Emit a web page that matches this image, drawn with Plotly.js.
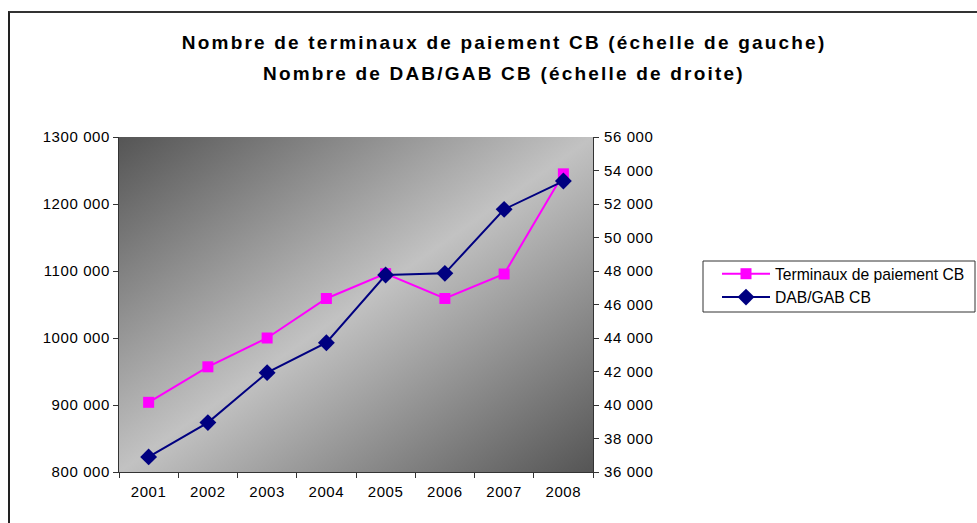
<!DOCTYPE html>
<html>
<head>
<meta charset="utf-8">
<script src="https://cdn.plot.ly/plotly-3.0.1.min.js"></script>
<style>
  body { margin: 0; background: #fff; }
  #wrap { position: relative; width: 977px; height: 523px; }
  #chart { width: 977px; height: 523px; }
  #frame { position: absolute; left: 8px; top: 11px; right: -5px; bottom: -5px;
           border-left: 2px solid #222; border-top: 2px solid #333; pointer-events: none; }
  /* Excel espace les lettres plus largement */
  #chart .gtitle, #chart .annotation-text { letter-spacing: 2.2px; }
  #chart .xtick text, #chart .ytick text, #chart .y2tick text { letter-spacing: 0.6px; }
</style>
</head>
<body>
<div id="wrap">
  <div id="chart"></div>
  <div id="frame"></div>
</div>
<script>
// Données
const annees = ['2001', '2002', '2003', '2004', '2005', '2006', '2007', '2008'];
const terminaux = [904000, 957000, 1000000, 1059000, 1096000, 1059000, 1095500, 1245000];
const dabGab = [36900, 38950, 41930, 43720, 47760, 47860, 51680, 53370];

const gaucheVals = [800000, 900000, 1000000, 1100000, 1200000, 1300000];
const gaucheText = ['800 000', '900 000', '1000 000', '1100 000', '1200 000', '1300 000'];
const droiteVals = [36000, 38000, 40000, 42000, 44000, 46000, 48000, 50000, 52000, 54000, 56000];
const droiteText = ['36 000', '38 000', '40 000', '42 000', '44 000', '46 000', '48 000', '50 000', '52 000', '54 000', '56 000'];

// fond dégradé de la zone de tracé
const fondSvg = '<svg xmlns="http://www.w3.org/2000/svg" width="474" height="335" preserveAspectRatio="none">' +
    '<defs><linearGradient id="g" x1="0" y1="0" x2="1" y2="1">' +
    '<stop offset="0" stop-color="#555555"/>' +
    '<stop offset="0.5" stop-color="#c2c2c2"/>' +
    '<stop offset="1" stop-color="#555555"/>' +
    '</linearGradient></defs><rect width="474" height="335" fill="url(#g)"/></svg>';
const fondUri = 'data:image/svg+xml;base64,' + btoa(fondSvg);

const traces = [
    {
        x: annees, y: terminaux,
        name: 'Terminaux de paiement CB',
        type: 'scatter', mode: 'lines+markers',
        line: { color: '#ff00ff', width: 2 },
        marker: { symbol: 'square', size: 11, color: '#ff00ff' }
    },
    {
        x: annees, y: dabGab,
        name: 'DAB/GAB CB',
        yaxis: 'y2',
        type: 'scatter', mode: 'lines+markers',
        line: { color: '#000080', width: 2 },
        marker: { symbol: 'diamond', size: 13, color: '#000080' }
    }
];

const police = 'Liberation Sans, Arial, sans-serif';

// passage pixels -> coordonnées "paper"
const px = v => (v - 119) / 474;
const py = v => (472 - v) / 335;

const layout = {
    width: 977, height: 523,
    margin: { l: 119, r: 384, t: 137, b: 51, autoexpand: false },
    paper_bgcolor: '#ffffff',
    plot_bgcolor: 'rgba(0,0,0,0)',
    font: { family: police, size: 15, color: '#000' },
    title: {
        text: '<b>Nombre de terminaux de paiement CB (échelle de gauche)</b>',
        font: { family: police, size: 19, color: '#000' },
        x: 0.516, xref: 'container', xanchor: 'center',
        y: 1 - 42 / 523, yref: 'container', yanchor: 'middle'
    },
    annotations: [{
        text: '<b>Nombre de DAB/GAB CB (échelle de droite)</b>',
        font: { family: police, size: 19, color: '#000' },
        showarrow: false,
        xref: 'paper', yref: 'paper',
        x: px(504), xanchor: 'center',
        y: py(73), yanchor: 'middle'
    }],
    xaxis: {
        type: 'category',
        range: [-0.5, 7.5],
        tickson: 'boundaries',
        ticks: 'outside', ticklen: 5, tickcolor: '#333',
        ticklabelstandoff: 6,
        showline: true, linecolor: '#333', linewidth: 1,
        showgrid: false, zeroline: false,
        tickfont: { size: 15 }
    },
    yaxis: {
        range: [800000, 1300000],
        tickvals: gaucheVals, ticktext: gaucheText,
        ticks: 'outside', ticklen: 5, tickcolor: '#333',
        showline: true, linecolor: '#333', linewidth: 1,
        showgrid: false, zeroline: false,
        tickfont: { size: 15 }
    },
    yaxis2: {
        range: [36000, 56000],
        overlaying: 'y', side: 'right',
        tickvals: droiteVals, ticktext: droiteText,
        ticks: 'outside', ticklen: 5, tickcolor: '#333',
        ticklabelstandoff: 2,
        showline: true, linecolor: '#333', linewidth: 1,
        showgrid: false, zeroline: false,
        tickfont: { size: 15 }
    },
    images: [{
        source: fondUri,
        xref: 'paper', yref: 'paper',
        x: 0, y: 1, sizex: 1, sizey: 1,
        sizing: 'stretch', layer: 'below'
    }],
    shapes: [{
        // cadre de la légende
        type: 'rect', xref: 'paper', yref: 'paper',
        x0: px(703), x1: px(975), y0: py(261), y1: py(312),
        line: { color: '#333', width: 1 },
        fillcolor: 'rgba(0,0,0,0)', layer: 'above'
    }],
    showlegend: true,
    legend: {
        x: px(717), xanchor: 'left',
        y: py(257), yanchor: 'top',
        bgcolor: 'rgba(0,0,0,0)',
        borderwidth: 0,
        font: { family: police, size: 15.7, color: '#000' },
        itemwidth: 48,
        tracegroupgap: 0
    }
};

Plotly.newPlot('chart', traces, layout, { displayModeBar: false, staticPlot: true });
</script>
</body>
</html>
